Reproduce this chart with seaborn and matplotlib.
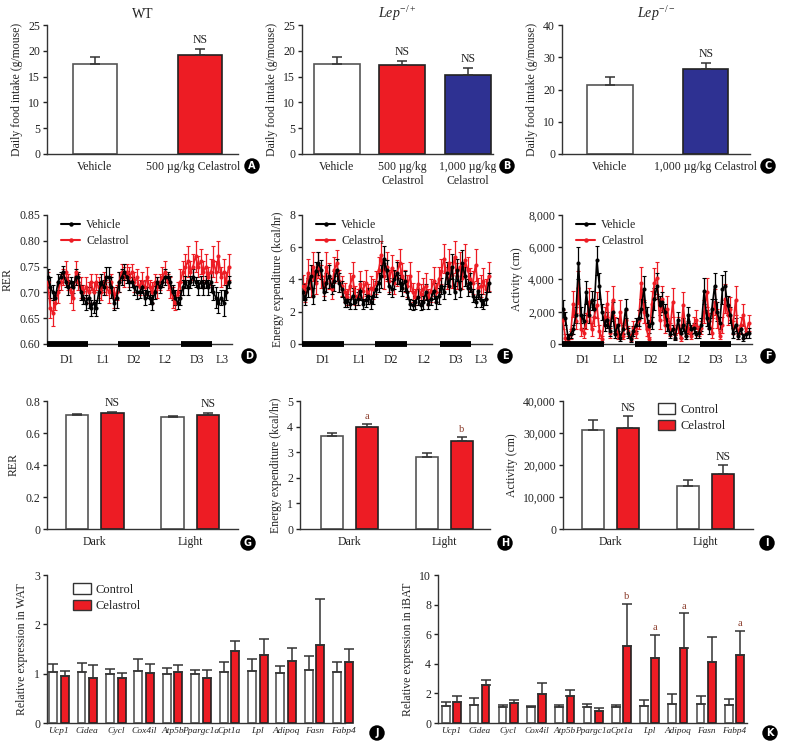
import numpy as np
import pandas as pd
import matplotlib
matplotlib.use("Agg")
import matplotlib.pyplot as plt
from matplotlib.ticker import FuncFormatter
from matplotlib.lines import Line2D
from matplotlib.patches import Patch
from matplotlib.transforms import ScaledTranslation
import seaborn as sns

sns.set_theme(style="ticks")
plt.rcParams["font.family"] = ["Liberation Serif", "DejaVu Serif"]
plt.rcParams["mathtext.fontset"] = "custom"
plt.rcParams["mathtext.rm"] = "Liberation Serif"
plt.rcParams["mathtext.it"] = "Liberation Serif:italic"
plt.rcParams["font.size"] = 8.5
plt.rcParams["axes.labelsize"] = 8.5
plt.rcParams["xtick.labelsize"] = 8.5
plt.rcParams["ytick.labelsize"] = 8.5
plt.rcParams["axes.linewidth"] = 1.0
plt.rcParams["axes.edgecolor"] = "#333333"
plt.rcParams["text.color"] = "#222222"
plt.rcParams["axes.labelcolor"] = "#222222"
plt.rcParams["xtick.color"] = "#222222"
plt.rcParams["ytick.color"] = "#222222"

RED = "#ED1C24"
NAVY = "#2E3192"

# ---- A/B/C daily food intake ----
a_groups = ["Vehicle", "500 µg/kg Celastrol"]
a_mean = [17.5, 19.1]
a_sem = [1.3, 1.3]

b_groups = ["Vehicle", "500 µg/kg\nCelastrol", "1,000 µg/kg\nCelastrol"]
b_mean = [17.5, 17.2, 15.4]
b_sem = [1.3, 0.9, 1.3]

c_groups = ["Vehicle", "1,000 µg/kg Celastrol"]
c_mean = [21.5, 26.5]
c_sem = [2.3, 1.7]

# ---- D/E/F hourly time course (72 h) ----
period_labels = ["D1", "L1", "D2", "L2", "D3", "L3"]
period_centers = [7.6, 21.6, 33.8, 46.2, 58.4, 68.3]
dark_spans = [(-0.3, 15.6), (27.7, 40.0), (52.3, 64.3)]

rer_veh = [0.73, 0.71, 0.70, 0.69, 0.72, 0.73, 0.74, 0.72, 0.71, 0.72, 0.71, 0.73,
           0.73, 0.70, 0.69, 0.68, 0.69, 0.67, 0.68, 0.67, 0.70, 0.72, 0.71, 0.73,
           0.73, 0.71, 0.68, 0.69, 0.72, 0.73, 0.74, 0.73, 0.72, 0.72, 0.71, 0.70,
           0.70, 0.71, 0.69, 0.70, 0.69, 0.68, 0.70, 0.72, 0.71, 0.72, 0.73, 0.73,
           0.72, 0.70, 0.69, 0.68, 0.69, 0.71, 0.72, 0.71, 0.72, 0.73, 0.72, 0.71,
           0.72, 0.71, 0.72, 0.71, 0.72, 0.70, 0.69, 0.68, 0.69, 0.68, 0.70, 0.72]
rer_veh_err = [.015, .02, .015, .01, .015, .01, .012, .01, .015, .01, .012, .015,
               .01, .015, .012, .015, .02, .015, .02, .015, .02, .015, .015, .02,
               .02, .02, .015, .02, .02, .015, .015, .012, .015, .01, .015, .012,
               .01, .012, .015, .01, .012, .015, .012, .01, .012, .01, .015, .01,
               .012, .015, .015, .012, .015, .015, .012, .015, .012, .015, .01, .015,
               .012, .015, .012, .015, .02, .015, .02, .02, .015, .025, .015, .012]
rer_cel = [0.72, 0.67, 0.66, 0.68, 0.70, 0.72, 0.73, 0.74, 0.72, 0.70, 0.69, 0.74,
           0.72, 0.71, 0.70, 0.71, 0.70, 0.72, 0.70, 0.72, 0.71, 0.70, 0.72, 0.71,
           0.70, 0.72, 0.69, 0.70, 0.72, 0.74, 0.73, 0.74, 0.73, 0.74, 0.72, 0.73,
           0.71, 0.72, 0.71, 0.73, 0.71, 0.70, 0.72, 0.71, 0.72, 0.73, 0.74, 0.72,
           0.71, 0.69, 0.68, 0.70, 0.72, 0.74, 0.75, 0.76, 0.74, 0.75, 0.77, 0.75,
           0.76, 0.74, 0.75, 0.73, 0.74, 0.76, 0.74, 0.77, 0.73, 0.74, 0.72, 0.75]
rer_cel_err = [.02, .02, .025, .015, .02, .015, .015, .02, .015, .02, .025, .02,
               .015, .02, .015, .02, .02, .015, .02, .015, .02, .015, .02, .015,
               .02, .015, .02, .015, .02, .015, .02, .015, .02, .015, .02, .015,
               .015, .02, .015, .02, .015, .02, .015, .02, .015, .02, .02, .015,
               .02, .02, .015, .02, .025, .02, .025, .03, .02, .025, .03, .02,
               .025, .02, .025, .02, .025, .03, .02, .03, .02, .025, .02, .025]

ee_veh = [3.2, 2.8, 3.5, 4.2, 3.0, 4.5, 5.0, 4.6, 3.2, 3.8, 4.2, 3.6, 3.9, 4.6, 3.8, 3.4,
          2.6, 2.7, 2.5, 3.0, 2.6, 2.8, 3.3, 2.5, 2.7, 3.0, 2.6, 3.0,
          3.4, 3.8, 4.2, 5.3, 4.6, 3.6, 3.4, 4.0, 4.4, 3.8, 3.5, 3.9,
          3.2, 2.5, 2.4, 2.6, 2.9, 2.4, 2.6, 3.2, 2.5, 2.8, 3.3, 2.6, 3.0,
          3.6, 3.2, 4.4, 3.6, 4.8, 3.2, 4.6, 3.4, 5.0, 4.2, 3.5, 3.8,
          3.0, 2.6, 3.3, 2.7, 2.5, 2.8, 3.8]
ee_veh_err = [.5, .4, .6, .7, .5, .6, .7, .6, .5, .6, .7, .5, .6, .7, .6, .5,
              .3, .4, .3, .5, .4, .4, .6, .3, .4, .5, .4, .5,
              .5, .6, .7, .8, .6, .5, .5, .6, .7, .5, .5, .6,
              .4, .3, .3, .4, .5, .3, .4, .5, .3, .4, .5, .4, .5,
              .5, .4, .7, .5, .8, .4, .7, .5, .8, .6, .5, .6,
              .4, .3, .5, .4, .3, .4, .6]
ee_cel = [3.6, 3.2, 4.4, 3.5, 4.8, 3.8, 4.9, 4.2, 3.6, 4.8, 4.2, 3.4, 4.6, 5.0, 3.9, 3.6,
          3.2, 2.9, 3.6, 4.2, 3.0, 2.9, 3.7, 3.3, 3.8, 3.1, 3.5, 3.4,
          3.8, 4.6, 5.5, 4.2, 4.8, 3.9, 4.7, 3.8, 4.4, 5.0, 4.2, 3.9,
          3.6, 4.2, 3.2, 2.9, 3.7, 3.1, 3.4, 3.6, 2.9, 3.3, 3.9, 3.2, 4.0,
          4.5, 5.3, 4.1, 5.0, 4.3, 5.4, 4.2, 4.8, 4.1, 5.2, 4.6, 4.0,
          3.8, 4.9, 3.5, 3.6, 3.9, 3.4, 4.2]
ee_cel_err = [.7, .6, .9, .6, .9, .7, .8, .7, .6, .9, .8, .6, .8, .8, .7, .6,
              .6, .5, .8, .9, .6, .5, .8, .6, .8, .6, .7, .6,
              .7, .8, .9, .8, .9, .7, .8, .7, .8, .9, .8, .7,
              .7, .9, .6, .5, .8, .6, .7, .8, .5, .7, .9, .6, .8,
              .8, .9, .7, .9, .8, 1.0, .8, .9, .7, 1.0, .8, .7,
              .7, 1.0, .6, .7, .8, .6, .9]

act_veh = [2200, 1600, 400, 600, 900, 1800, 5000, 1800, 1400, 3200, 1800, 2700, 2200, 5200, 3600, 2000,
           1200, 1500, 800, 2000, 600, 1200, 400, 900, 2200, 700, 300, 800,
           1200, 1600, 2200, 3400, 1800, 1100, 1300, 2800, 3600, 2400, 2600, 2000,
           1200, 600, 900, 400, 1500, 700, 1200, 500, 1800, 900, 1000, 600, 700,
           1200, 3300, 1600, 1000, 2200, 3600, 2000, 1300, 3400, 3600, 2400, 1800,
           700, 1200, 500, 900, 400, 600, 700]
act_veh_err = [500, 400, 200, 200, 300, 500, 1000, 500, 400, 700, 500, 600, 500, 900, 800, 500,
               400, 500, 300, 600, 200, 400, 200, 300, 600, 300, 150, 300,
               400, 500, 600, 800, 500, 400, 400, 700, 800, 600, 600, 500,
               400, 200, 300, 150, 500, 300, 400, 200, 500, 300, 300, 200, 300,
               400, 800, 500, 400, 600, 800, 600, 400, 900, 900, 600, 500,
               300, 400, 200, 300, 200, 200, 300]
act_cel = [1500, 400, 200, 600, 2500, 1400, 3500, 900, 700, 1400, 2600, 900, 1700, 2400, 800, 300,
           1700, 2500, 700, 2700, 1200, 500, 2000, 500, 1500, 800, 400, 1000,
           700, 1500, 3800, 2000, 900, 300, 2500, 3800, 4100, 1500, 2800, 1200,
           2200, 900, 2600, 600, 1200, 400, 2400, 800, 1000, 500, 1200, 1500, 800,
           1000, 2000, 3200, 1400, 700, 2600, 1600, 500, 1200, 2800, 1800, 2200,
           1000, 2700, 600, 1200, 1800, 700, 1300]
act_cel_err = [600, 200, 100, 300, 800, 500, 1000, 400, 300, 500, 900, 400, 600, 800, 400, 200,
               600, 800, 300, 900, 500, 200, 700, 200, 600, 300, 200, 400,
               300, 600, 1000, 700, 400, 150, 800, 900, 1000, 600, 800, 500,
               800, 400, 900, 300, 500, 200, 800, 300, 400, 200, 500, 600, 300,
               400, 700, 900, 500, 300, 800, 600, 200, 500, 900, 600, 700,
               400, 900, 300, 500, 700, 300, 500]

# ---- G/H/I dark vs light summary ----
phases = ["Dark", "Light"]
g_ctrl, g_ctrl_sem = [0.713, 0.698], [0.008, 0.010]
g_cel, g_cel_sem = [0.724, 0.713], [0.010, 0.012]
h_ctrl, h_ctrl_sem = [3.62, 2.83], [0.13, 0.12]
h_cel, h_cel_sem = [4.00, 3.45], [0.10, 0.15]
i_ctrl, i_ctrl_sem = [30800, 13400], [3200, 1800]
i_cel, i_cel_sem = [31700, 17100], [3500, 2800]

# ---- J/K gene expression ----
genes = ["Ucp1", "Cidea", "Cycl", "Cox4il", "Atp5b", "Ppargc1a",
         "Cpt1a", "Lpl", "Adipoq", "Fasn", "Fabp4"]
j_ctrl = [1.04, 1.04, 1.00, 1.06, 1.00, 1.00, 1.04, 1.06, 1.02, 1.07, 1.04]
j_ctrl_sem = [0.15, 0.18, 0.10, 0.23, 0.12, 0.08, 0.20, 0.24, 0.14, 0.28, 0.20]
j_cel = [0.95, 0.91, 0.92, 1.01, 1.04, 0.91, 1.46, 1.37, 1.25, 1.59, 1.23]
j_cel_sem = [0.11, 0.27, 0.10, 0.19, 0.14, 0.17, 0.20, 0.34, 0.27, 0.93, 0.27]
k_ctrl = [1.13, 1.24, 1.06, 1.06, 1.06, 1.06, 1.11, 1.17, 1.29, 1.29, 1.22]
k_ctrl_sem = [0.29, 0.45, 0.16, 0.11, 0.18, 0.23, 0.13, 0.41, 0.67, 0.56, 0.41]
k_cel = [1.44, 2.57, 1.38, 1.94, 1.83, 0.81, 5.17, 4.42, 5.08, 4.13, 4.58]
k_cel_sem = [0.39, 0.36, 0.18, 0.77, 0.40, 0.23, 2.87, 1.54, 2.32, 1.65, 1.67]
k_marks = {6: "b", 7: "a", 8: "a", 10: "a"}

W, H = 785, 749
fig = plt.figure(figsize=(W / 100, H / 100), dpi=100)


def panel(l, t, r, b):
    ax = fig.add_axes([l / W, 1 - b / H, (r - l) / W, (b - t) / H])
    sns.despine(ax=ax)
    ax.tick_params(axis="y", length=3, width=1, pad=2)
    ax.tick_params(axis="x", length=0, pad=5)
    return ax


def badge(x, y, letter):
    fig.text(x / W, 1 - y / H, letter, ha="center", va="center", color="white",
             fontsize=7, fontweight="bold", family="DejaVu Sans",
             bbox=dict(boxstyle="circle,pad=0.28", fc="black", ec="none"))


def up_err(ax, xs, tops, errs, color="#333333"):
    eb = ax.errorbar(xs, tops, yerr=[np.zeros(len(errs)), errs], fmt="none",
                     ecolor=color, elinewidth=1.1, capsize=3.5, capthick=1.1, zorder=3)
    for art in eb.lines[1] + eb.lines[2]:
        art.set_clip_on(False)


def mark(ax, x, y, text, color="#222222", size=8.5):
    ax.annotate(text, (x, y), xytext=(0, 2), textcoords="offset points",
                ha="center", va="bottom", fontsize=size, color=color)


def style_bars(ax):
    for p in ax.patches:
        fc = p.get_facecolor()
        p.set_edgecolor("#555555" if fc[0] > 0.95 and fc[2] > 0.95 else "#222222")
        p.set_linewidth(1.2)
        p.set_clip_on(False)


def simple_bars(ax, groups, means, sems, colors, width, xlim, ylim, ystep, title, marks):
    df = pd.DataFrame({"grp": groups, "val": means})
    sns.barplot(data=df, x="grp", y="val", hue="grp", palette=colors, legend=False,
                width=width, saturation=1, errorbar=None, ax=ax)
    style_bars(ax)
    xs = [p.get_x() + p.get_width() / 2 for p in ax.patches]
    up_err(ax, xs, means, sems)
    for k, txt in marks.items():
        mark(ax, xs[k], means[k] + sems[k], txt)
    ax.set_xlim(*xlim)
    ax.set_ylim(*ylim)
    ax.set_yticks(np.arange(ylim[0], ylim[1] + 0.1, ystep))
    ax.set_xlabel("")
    ax.set_ylabel("Daily food intake (g/mouse)")
    ax.set_title(title, fontsize=10, pad=5)


ax = panel(47, 25, 238, 154)
simple_bars(ax, a_groups, a_mean, a_sem, ["white", RED], 0.42, (-0.455, 1.364), (0, 25), 5, "WT", {1: "NS"})
lbl = ax.get_xticklabels()[1]
lbl.set_transform(lbl.get_transform() + ScaledTranslation(-7 / 100, 0, fig.dpi_scale_trans))
badge(252, 166, "A")

ax = panel(302, 25, 493, 154)
simple_bars(ax, b_groups, b_mean, b_sem, ["white", RED, NAVY], 0.7, (-0.53, 2.38), (0, 25), 5,
            r"$\mathit{Lep}^{-/+}$", {1: "NS", 2: "NS"})
badge(507, 166, "B")

ax = panel(562, 25, 750, 154)
simple_bars(ax, c_groups, c_mean, c_sem, ["white", NAVY], 0.47, (-0.5, 1.46), (0, 40), 10,
            r"$\mathit{Lep}^{-/-}$", {1: "NS"})
badge(768, 166, "C")


def timecourse(ax, veh, veh_err, cel, cel_err, ylim, yticks, ylabel, fmt):
    hours = np.arange(len(veh))
    for vals, errs, col in [(cel, cel_err, RED), (veh, veh_err, "black")]:
        ax.errorbar(hours, vals, yerr=errs, fmt="none", ecolor=col, elinewidth=0.9,
                    capsize=1.2, capthick=0.8, zorder=2)
        sns.lineplot(x=hours, y=vals, color=col, lw=1.2, marker="o", ms=2.2,
                     mec=col, ax=ax, zorder=3)
    for s, e in dark_spans:
        ax.hlines(ylim[0], s, e, color="black", lw=4.2, clip_on=False, zorder=6)
    ax.set_xlim(-0.3, 72.3)
    ax.set_ylim(*ylim)
    ax.set_yticks(yticks)
    ax.yaxis.set_major_formatter(FuncFormatter(fmt))
    ax.set_xticks(period_centers)
    ax.set_xticklabels(period_labels)
    ax.tick_params(axis="x", pad=7)
    ax.set_ylabel(ylabel)
    handles = [Line2D([0], [0], color="black", lw=1.5, marker="o", ms=2.2),
               Line2D([0], [0], color=RED, lw=1.5, marker="o", ms=2.2)]
    ax.legend(handles, ["Vehicle", "Celastrol"], loc="upper left", bbox_to_anchor=(0.02, 1.05),
              frameon=False, handlelength=1.6, handletextpad=0.5, labelspacing=0.3, fontsize=8.5)


ax = panel(47, 215, 232, 344)
timecourse(ax, rer_veh, rer_veh_err, rer_cel, rer_cel_err, (0.60, 0.85),
           np.arange(0.60, 0.851, 0.05), "RER", lambda v, _: f"{v:.2f}")
badge(249, 356, "D")

ax = panel(302, 215, 492, 344)
timecourse(ax, ee_veh, ee_veh_err, ee_cel, ee_cel_err, (0, 8), [0, 2, 4, 6, 8],
           "Energy expenditure (kcal/hr)", lambda v, _: f"{v:.0f}")
badge(505, 356, "E")

ax = panel(562, 215, 752, 344)
timecourse(ax, act_veh, act_veh_err, act_cel, act_cel_err, (0, 8000),
           [0, 2000, 4000, 6000, 8000], "Activity (cm)", lambda v, _: f"{int(v):,}")
badge(768, 356, "F")


def paired_bars(ax, cats, ctrl, ctrl_sem, cel, cel_sem, width, gap, xlim):
    df = pd.DataFrame({"cat": list(cats) * 2,
                       "group": ["Control"] * len(cats) + ["Celastrol"] * len(cats),
                       "val": list(ctrl) + list(cel)})
    sns.barplot(data=df, x="cat", y="val", hue="group", palette=["white", RED],
                width=width, gap=gap, saturation=1, errorbar=None, legend=False, ax=ax)
    style_bars(ax)
    xc = [b.get_x() + b.get_width() / 2 for b in ax.containers[0]]
    xr = [b.get_x() + b.get_width() / 2 for b in ax.containers[1]]
    up_err(ax, xc, ctrl, ctrl_sem)
    up_err(ax, xr, cel, cel_sem)
    ax.set_xlim(*xlim)
    ax.set_xlabel("")
    return xc, xr


def bar_legend(ax, anchor):
    handles = [Patch(fc="white", ec="#333333", lw=1), Patch(fc=RED, ec="#333333", lw=1)]
    ax.legend(handles, ["Control", "Celastrol"], loc="upper left", bbox_to_anchor=anchor,
              frameon=False, handlelength=1.4, handleheight=0.9, handletextpad=0.4,
              labelspacing=0.3, fontsize=9)


ax = panel(47, 401, 238, 529)
xc, xr = paired_bars(ax, phases, g_ctrl, g_ctrl_sem, g_cel, g_cel_sem, 0.74, 0.37, (-0.5, 1.5))
for k in range(2):
    mark(ax, xr[k], g_cel[k] + g_cel_sem[k], "NS")
ax.set_ylim(0, 0.8)
ax.set_yticks([0, 0.2, 0.4, 0.6, 0.8])
ax.yaxis.set_major_formatter(FuncFormatter(lambda v, _: "0" if v == 0 else f"{v:.1f}"))
ax.set_ylabel("RER")
badge(248, 543, "G")

ax = panel(300, 401, 490, 529)
xc, xr = paired_bars(ax, phases, h_ctrl, h_ctrl_sem, h_cel, h_cel_sem, 0.74, 0.37, (-0.52, 1.48))
mark(ax, xr[0], h_cel[0] + h_cel_sem[0], "a", color="#8a3b2a", size=7.5)
mark(ax, xr[1], h_cel[1] + h_cel_sem[1], "b", color="#8a3b2a", size=7.5)
ax.set_ylim(0, 5)
ax.set_yticks(range(6))
ax.set_ylabel("Energy expenditure (kcal/hr)")
badge(505, 543, "H")

ax = panel(563, 401, 753, 529)
xc, xr = paired_bars(ax, phases, i_ctrl, i_ctrl_sem, i_cel, i_cel_sem, 0.74, 0.37, (-0.5, 1.5))
for k in range(2):
    mark(ax, xr[k], i_cel[k] + i_cel_sem[k], "NS")
ax.set_ylim(0, 40000)
ax.set_yticks([0, 10000, 20000, 30000, 40000])
ax.yaxis.set_major_formatter(FuncFormatter(lambda v, _: f"{int(v):,}"))
ax.set_ylabel("Activity (cm)")
bar_legend(ax, (0.44, 1.07))
badge(767, 543, "I")

ax = panel(47, 575, 345, 723)
xc, xr = paired_bars(ax, genes, j_ctrl, j_ctrl_sem, j_cel, j_cel_sem, 0.82, 0.32, (-0.42, 10.07))
ax.set_ylim(0, 3)
ax.set_yticks([0, 1, 2, 3])
ax.set_ylabel("Relative expression in WAT")
ax.tick_params(axis="x", pad=3, labelsize=6.8)
for t in ax.get_xticklabels():
    t.set_fontstyle("italic")
bar_legend(ax, (0.05, 1.02))
badge(377, 733, "J")

ax = panel(438, 575, 747, 723)
xc, xr = paired_bars(ax, genes, k_ctrl, k_ctrl_sem, k_cel, k_cel_sem, 0.8, 0.32, (-0.48, 10.44))
for k, txt in k_marks.items():
    mark(ax, xr[k], k_cel[k] + k_cel_sem[k], txt, color="#8a3b2a", size=7.5)
ax.set_ylim(0, 10)
ax.set_yticks(range(0, 11, 2))
ax.set_ylabel("Relative expression in iBAT")
ax.tick_params(axis="x", pad=3, labelsize=6.7)
for t in ax.get_xticklabels():
    t.set_fontstyle("italic")
badge(770, 733, "K")

fig.savefig("out.png", dpi=100)
